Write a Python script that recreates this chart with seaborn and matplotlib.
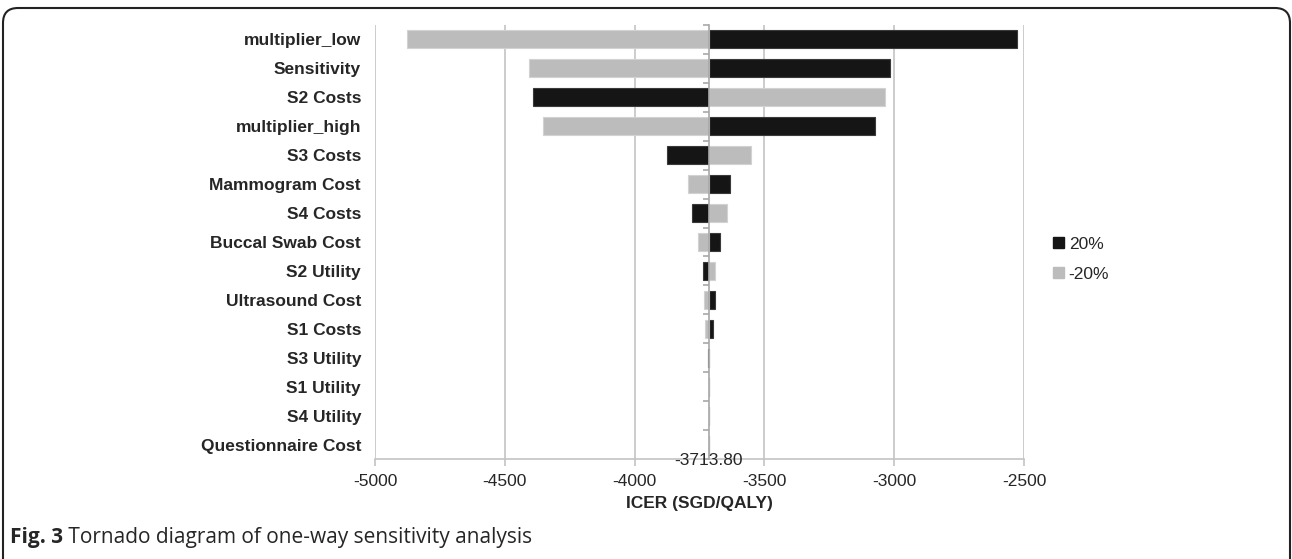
import numpy as np
import pandas as pd
import seaborn as sns
import matplotlib.pyplot as plt
from matplotlib.patches import FancyBboxPatch, Patch

# tornado data
params = ["multiplier_low", "Sensitivity", "S2 Costs", "multiplier_high", "S3 Costs",
          "Mammogram Cost", "S4 Costs", "Buccal Swab Cost", "S2 Utility", "Ultrasound Cost",
          "S1 Costs", "S3 Utility", "S1 Utility", "S4 Utility", "Questionnaire Cost"]
plus20 = [-2526, -3016, -4392, -3074, -3876, -3633, -3779, -3671, -3737, -3690,
          -3698, -3716, -3713.8, -3713.8, -3713.8]
minus20 = [-4878, -4408, -3035, -4354, -3552, -3795, -3644, -3756, -3690, -3733,
           -3729, -3712, -3713.8, -3713.8, -3713.8]
base = -3713.80
xticks = [-5000, -4500, -4000, -3500, -3000, -2500]

df = pd.DataFrame({
    "param": params * 2,
    "icer": plus20 + minus20,
    "case": ["20%"] * len(params) + ["-20%"] * len(params),
})
# bars grow out of the base case, so plot the change from base
df["delta"] = df["icer"] - base

sns.set_style("white")
plt.rcParams["font.family"] = ["Liberation Sans", "DejaVu Sans"]

fig = plt.figure(figsize=(12.92, 5.59), dpi=100)
ax = fig.add_axes([0.2902, 0.1789, 0.5024, 0.7764])

black = "#151515"
grey = "#bcbcbc"
sns.barplot(data=df, y="param", x="delta", hue="case", order=params,
            hue_order=["20%", "-20%"], palette={"20%": black, "-20%": grey},
            dodge=False, width=0.62, orient="h", ax=ax, legend=False)
for p in ax.patches:
    fc = p.get_facecolor()
    p.set_edgecolor("#3a3a3a" if fc[0] < 0.5 else "#d2d2d2")
    p.set_linewidth(0.8)

xt = [v - base for v in xticks]
ax.set_xlim(xt[0], xt[-1])
ax.set_ylim(len(params) - 0.5, -0.5)
ax.set_xticks(xt)
ax.set_xticklabels([str(v) for v in xticks], fontsize=12.5)
ax.xaxis.grid(True, color="#c4c4c4", linewidth=1.2)
ax.set_axisbelow(True)
ax.tick_params(axis="x", length=5, width=1.2, color="#c4c4c4", pad=6, bottom=True)
ax.tick_params(axis="y", length=0, pad=10)
for lab in ax.get_yticklabels():
    lab.set_fontweight("bold")
    lab.set_fontsize(12.5)
for s in ["top", "right", "left"]:
    ax.spines[s].set_visible(False)
ax.spines["bottom"].set_color("#c4c4c4")
ax.spines["bottom"].set_linewidth(1.2)
ax.set_ylabel("")
ax.set_xlabel("ICER (SGD/QALY)", fontsize=12.5, fontweight="bold", labelpad=5)

# base-case axis with small ticks between categories
ax2 = ax.twinx()
ax2.set_ylim(ax.get_ylim())
ax2.yaxis.tick_left()
ax2.spines["left"].set_position(("data", 0))
ax2.spines["left"].set_color("#a8a8a8")
ax2.spines["left"].set_linewidth(1.2)
for s in ["top", "right", "bottom"]:
    ax2.spines[s].set_visible(False)
ax2.set_yticks(np.arange(-0.5, len(params), 1.0))
ax2.set_yticklabels([])
ax2.tick_params(axis="y", length=4, width=1.2, color="#a8a8a8")
ax2.text(0, len(params) - 0.45, "%.2f" % base, ha="center", va="center",
         fontsize=12.5, transform=ax2.transData)

handles = [Patch(facecolor=black, edgecolor=black), Patch(facecolor=grey, edgecolor=grey)]
fig.legend(handles, ["20%", "-20%"], loc="center left", bbox_to_anchor=(0.803, 0.536),
           frameon=False, fontsize=12.5, handlelength=0.6, handleheight=0.6,
           handletextpad=0.3, labelspacing=0.85)

# caption and rounded frame
t1 = fig.text(0.008, 0.038, "Fig. 3", fontsize=15, fontweight="bold",
              family=["Open Sans", "DejaVu Sans"], va="center")
ax.annotate(" Tornado diagram of one-way sensitivity analysis", xy=(1, 0.5), xycoords=t1,
            va="center", ha="left", fontsize=15, family=["Open Sans", "DejaVu Sans"],
            annotation_clip=False)
frame = FancyBboxPatch((0.03, -0.3), 12.87, 5.81, boxstyle="round,pad=0,rounding_size=0.15",
                       transform=fig.dpi_scale_trans, facecolor="none",
                       edgecolor="#222222", linewidth=1.5, clip_on=False)
fig.patches.append(frame)

fig.savefig("out.png", dpi=100)
